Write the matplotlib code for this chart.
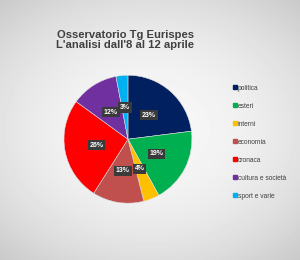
import numpy as np
import matplotlib
matplotlib.use("Agg")
import matplotlib.pyplot as plt
from matplotlib.lines import Line2D

categories = ["politica", "esteri", "interni", "economia", "cronaca",
              "cultura e società", "sport e varie"]
values = [23, 19, 4, 13, 26, 12, 3]
colors = ["#002060", "#00B050", "#FFC000", "#C0504D", "#FF0000",
          "#7030A0", "#00B0F0"]

plt.rcParams['font.family'] = ['Liberation Sans', 'DejaVu Sans']

fig = plt.figure(figsize=(3.0, 2.6), dpi=100)

# soft gray background with lighter center
bg = fig.add_axes([0, 0, 1, 1])
yy, xx = np.mgrid[-1:1:260j, -1:1:300j]
r = np.sqrt((xx * 0.9) ** 2 + (yy * 1.0) ** 2)
bg.imshow(0.97 - 0.10 * r ** 2, cmap="gray", vmin=0, vmax=1, aspect="auto")
bg.axis("off")

ax = fig.add_axes([0.16, 0.157, 0.533, 0.615])
wedges, texts, autotexts = ax.pie(
    values, colors=colors, startangle=90, counterclock=False,
    autopct="%d%%", pctdistance=0.5,
    wedgeprops=dict(linewidth=0.4, edgecolor="#dddddd"))
for t in autotexts:
    t.set_color("white")
    t.set_fontsize(5)
    t.set_fontweight("bold")
    t.set_bbox(dict(boxstyle="square,pad=0.25", fc="#3a3a3a", ec="none"))
ax.set_aspect("equal")

fig.text(0.417, 0.848, "Osservatorio Tg Eurispes\nL'analisi dall'8 al 12 aprile",
         ha="center", va="center", fontsize=8.1, fontweight="bold",
         color="#404040", linespacing=1.0)

handles = [Line2D([0], [0], marker="s", linestyle="", markersize=2.5,
                  markerfacecolor=c, markeredgecolor=c) for c in colors]
fig.legend(handles, categories, loc="upper left", bbox_to_anchor=(0.755, 0.697),
           frameon=False, fontsize=4.8, labelspacing=1.65, handlelength=0.6,
           handletextpad=0.2, labelcolor="#404040")

fig.savefig("out.png", dpi=100)
